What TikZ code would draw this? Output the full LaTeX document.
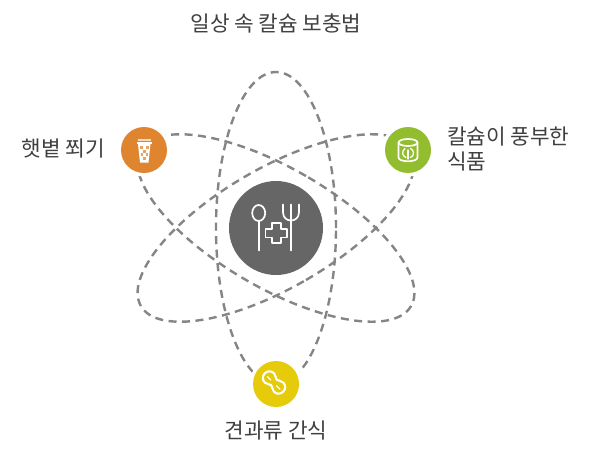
\documentclass[tikz,border=0pt]{standalone}
\usepackage{fontspec}
\setmainfont{Noto Sans CJK KR}
\definecolor{orbit}{HTML}{858585}
\definecolor{hub}{HTML}{666666}
\definecolor{orangeC}{HTML}{DF8530}
\definecolor{greenC}{HTML}{92BD2E}
\definecolor{yellowC}{HTML}{E5CB09}
\definecolor{labelC}{HTML}{404040}
\tikzset{
 orbitline/.style={draw=orbit,line width=2.4pt,dash pattern=on 8pt off 5.5pt},
 halo/.style={circle,fill=white,minimum size=53pt,inner sep=0pt},
 disc/.style={circle,minimum size=46pt,inner sep=0pt},
 lab/.style={text=labelC,font=\fontsize{21.3pt}{24.5pt}\selectfont,inner sep=0pt},
 icon/.style={draw=white,line width=1.7pt,line join=round,line cap=round},
 thin icon/.style={draw=white,line width=1.3pt,line join=round,line cap=round},
}
\begin{document}
\begin{tikzpicture}[x=1pt,y=-1pt]
\useasboundingbox (0,0) rectangle (600,456);
\fill[white] (0,0) rectangle (600,456);
\coordinate (c) at (276,228);
\draw[orbitline] (c) ellipse[x radius=60pt,y radius=156pt];
\draw[orbitline,rotate around={60:(c)}] (c) ellipse[x radius=60pt,y radius=156pt];
\draw[orbitline,rotate around={-60:(c)}] (c) ellipse[x radius=60pt,y radius=156pt];
\node[halo] at (144,150) {};
\node[halo] at (408,150) {};
\node[halo] at (276,384) {};
\node[circle,fill=hub,minimum size=94pt,inner sep=0pt] (hubn) at (276,228) {};
\node[disc,fill=orangeC] (sun) at (144,150) {};
\node[disc,fill=greenC] (food) at (408,150) {};
\node[disc,fill=yellowC] (nuts) at (276,384) {};
% hub icon
\draw[icon] (258.7,213) ellipse[x radius=6.5pt,y radius=8pt];
\draw[icon] (258.7,221) -- (258.7,250.5);
\draw[icon] (283,204.5) -- (283,212) .. controls (283,218) and (287,220.5) .. (291,220.5) .. controls (295,220.5) and (299,218) .. (299,212) -- (299,204.5);
\draw[icon] (291,204.5) -- (291,250.5);
\draw[icon] (272,223) -- (281,223) -- (281,229) -- (287,229) -- (287,237.5) -- (281,237.5) -- (281,243) -- (272,243) -- (272,237.5) -- (265.5,237.5) -- (265.5,229) -- (272,229) -- cycle;
% cup icon
\fill[white!70!orangeC] (137.5,138.5) rectangle (150.5,141);
\fill[white] (136.7,141.5) rectangle (151.5,144);
\fill[white] (138,144) -- (150.5,144) -- (148.5,162.5) -- (140,162.5) -- cycle;
\fill[orangeC!75] (140,146) rectangle (142.5,149);
\fill[orangeC!75] (146,146) rectangle (148.5,149);
\fill[orangeC!75] (143,150) rectangle (145.5,152.5);
\fill[orangeC!75] (140.5,153) rectangle (142.5,156);
\fill[orangeC!75] (146,153) rectangle (148,156);
\fill[orangeC!75] (143,157) rectangle (145.5,159.5);
% can icon
\draw[icon] (408,142.5) ellipse[x radius=9.5pt,y radius=3.5pt];
\draw[icon] (398.5,142.5) -- (398.5,157.5) .. controls (398.5,162.5) and (417.5,162.5) .. (417.5,157.5) -- (417.5,142.5);
\draw[thin icon] (405,148.5) .. controls (401.5,151) and (402,156) .. (406,157.5);
\draw[thin icon] (410.5,148.5) .. controls (414.5,150) and (414.5,156) .. (410.5,157.5);
\draw[thin icon] (408,150) -- (408,159);
% peanut icon
\begin{scope}[shift={(274,382.5)},rotate=-45]
\draw[icon,line width=2.1pt] (-13,0) .. controls (-13,-4) and (-10,-6.5) .. (-6.5,-6.5) .. controls (-3,-6.5) and (-2,-3.8) .. (0,-3.8) .. controls (2,-3.8) and (3,-6.5) .. (6.5,-6.5) .. controls (10,-6.5) and (13,-4) .. (13,0) .. controls (13,4) and (10,6.5) .. (6.5,6.5) .. controls (3,6.5) and (2,3.8) .. (0,3.8) .. controls (-2,3.8) and (-3,6.5) .. (-6.5,6.5) .. controls (-10,6.5) and (-13,4) .. (-13,0) -- cycle;
\draw[thin icon] (-9,0.5) -- (-4,0.5);
\draw[thin icon] (4,0.5) -- (9,0.5);
\end{scope}
% labels
\node[lab] (title) at (276,23) {일상 속 칼슘 보충법};
\node[lab,anchor=east] (l1) at (105,149) {햇볕 쬐기};
\node[lab,anchor=west,align=left] (l2) at (447,149) {칼슘이 풍부한\\식품};
\node[lab] (l3) at (276,431) {견과류 간식};
\end{tikzpicture}
\end{document}
